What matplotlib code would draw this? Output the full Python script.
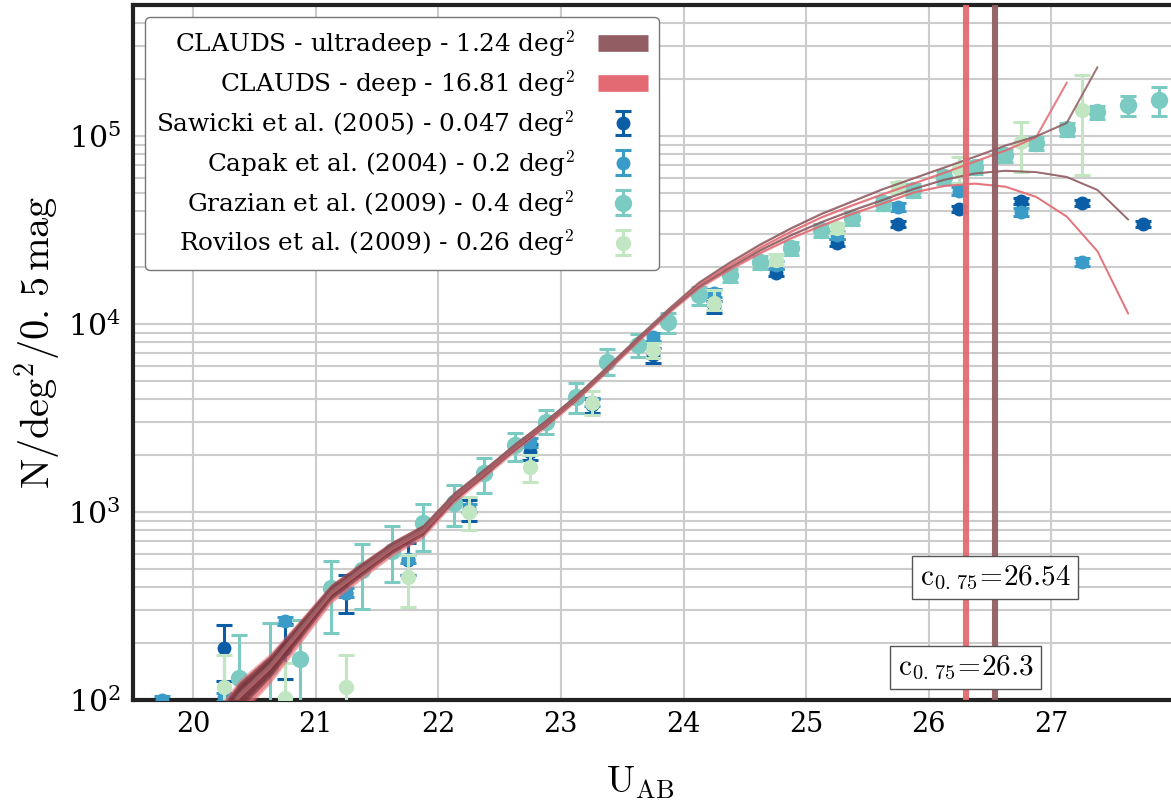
import numpy as np
import matplotlib
matplotlib.use("Agg")
import matplotlib.pyplot as plt
from matplotlib.lines import Line2D
from matplotlib.ticker import LogLocator, NullFormatter, FixedLocator

plt.rcParams['font.family'] = ['DejaVu Serif']
plt.rcParams['mathtext.fontset'] = 'cm'

# ---------------- data ----------------
# CLAUDS number counts (bin centres every 0.25 mag)
ud_hi_mag = [20.125, 20.375, 20.625, 20.875, 21.125, 21.375, 21.625, 21.875, 22.125, 22.375,
             22.625, 22.875, 23.125, 23.375, 23.625, 23.875, 24.125, 24.375, 24.625, 24.875,
             25.125, 25.375, 25.625, 25.875, 26.125, 26.375, 26.625, 26.875, 27.125, 27.375]
ud_hi_val = [63, 108, 154, 242, 382, 505, 660, 815, 1225, 1660,
             2270, 3030, 4140, 5880, 8420, 11950, 16600, 21200, 26500, 32300,
             38600, 44900, 52200, 59600, 68000, 77600, 89100, 99600, 117500, 232000]

ud_lo_mag = ud_hi_mag + [27.625]
ud_lo_val = [61, 104, 149, 234, 370, 490, 641, 792, 1188, 1610,
             2200, 2940, 4020, 5700, 8170, 11580, 15800, 19900, 24700, 29700,
             34900, 40200, 45800, 52300, 58600, 63300, 65400, 64300, 60600, 51700, 36000]

d_hi_mag = ud_hi_mag[:-1]
d_hi_val = [62, 106, 151, 237, 374, 495, 648, 800, 1200, 1625,
            2225, 2970, 4060, 5760, 8250, 11700, 16200, 20500, 25500, 31000,
            37000, 42800, 49100, 55900, 63800, 73200, 83800, 98600, 192000]

d_lo_mag = ud_lo_mag
d_lo_val = [60, 103, 147, 231, 366, 485, 635, 784, 1176, 1595,
            2180, 2910, 3980, 5650, 8080, 11460, 15600, 19500, 23900, 28600,
            33400, 38600, 43900, 50100, 54300, 55900, 53800, 47500, 37300, 24400, 11400]

ud_area_field = 0.45
d_area_field = 0.22

c_deep = 26.3
c_ultradeep = 26.54

# Sawicki et al. (2005)
saw_mag = [20.25, 20.75, 21.25, 21.75, 22.25, 22.75, 23.25, 23.75, 24.25, 24.75,
           25.25, 25.75, 26.25, 26.75, 27.25, 27.75]
saw_val = [188, 186, 370, 556, 1015, 2090, 3690, 6810, 12400, 18700,
           27100, 34100, 41000, 45100, 44000, 34100]
saw_lo = [126, 129, 290, 461, 893, 1890, 3380, 6200, 11500, 17900,
          26000, 32700, 39400, 43300, 42200, 32700]
saw_hi = [252, 255, 461, 683, 1158, 2300, 4000, 7450, 13300, 19500,
          28200, 35500, 42600, 46900, 45800, 35500]

# Capak et al. (2004)
cap_mag = [19.75, 20.25, 20.75, 21.25, 21.75, 22.25, 22.75, 23.25, 23.75, 24.25,
           24.75, 25.25, 25.75, 26.25, 26.75, 27.25]
cap_val = [100, 104, 264, 373, 565, 1055, 2350, 3840, 8550, 14600,
           20600, 29700, 42000, 51000, 39500, 21400]
cap_lo = [95, 99, 251, 354, 537, 1002, 2230, 3650, 8120, 13870,
          19570, 28200, 39900, 48450, 37500, 20300]
cap_hi = [105, 109, 277, 392, 593, 1108, 2470, 4030, 8980, 15330,
          21630, 31200, 44100, 53550, 41500, 22500]

# Grazian et al. (2009)
gra_mag = [20.375, 20.625, 20.875, 21.125, 21.375, 21.625, 21.875, 22.125, 22.375, 22.625,
           22.875, 23.125, 23.375, 23.625, 23.875, 24.125, 24.375, 24.625, 24.875, 25.125,
           25.375, 25.625, 25.875, 26.125, 26.375, 26.625, 26.875, 27.125, 27.375, 27.625, 27.875]
gra_val = [131, 149, 165, 393, 491, 622, 870, 1115, 1610, 2270,
           3020, 4080, 6290, 7730, 10250, 14270, 18200, 21350, 25300, 31600,
           36700, 44000, 51600, 60500, 68300, 79300, 91800, 109000, 134000, 146000, 155000]
gra_lo = [50, 50, 60, 227, 304, 423, 618, 843, 1265, 1870,
          2600, 3360, 5360, 6690, 8970, 12600, 16700, 19600, 23300, 29100,
          33800, 40500, 47500, 55700, 62800, 72900, 84500, 100300, 123300, 128000, 127000]
gra_hi = [221, 256, 265, 546, 673, 838, 1097, 1392, 1935, 2630,
          3490, 4860, 7370, 8860, 11450, 15750, 19700, 23100, 27300, 34100,
          39600, 47500, 55700, 65300, 73800, 85600, 99100, 117700, 144700, 164000, 183000]

# Rovilos et al. (2009)
rov_mag = [20.25, 20.75, 21.25, 21.75, 22.25, 22.75, 23.25, 23.75, 24.25, 24.75,
           25.25, 25.75, 26.25, 26.75, 27.25]
rov_val = [117, 103, 117, 450, 1000, 1740, 3790, 7270, 13000, 22000,
           32400, 53500, 66700, 93000, 138000]
rov_lo = [60, 60, 60, 312, 800, 1450, 3280, 6600, 11900, 20500,
          30600, 50000, 56200, 64400, 62300]
rov_hi = [174, 158, 174, 590, 1200, 2020, 4400, 7900, 15100, 23700,
          34500, 57000, 77200, 118500, 211000]

x_ticks = [20, 21, 22, 23, 24, 25, 26, 27]

# ---------------- styles ----------------
col_ud = '#925e63'
col_d = '#e36a72'
col_saw = '#0b5ea6'
col_cap = '#3a9bc8'
col_gra = '#7bcbc3'
col_rov = '#c2e6c1'

W, H = 1171, 802
fig = plt.figure(figsize=(W / 100, H / 100), dpi=100)
ax = fig.add_axes([133 / W, 102 / H, (1174 - 133) / W, 695 / H])
ax.set_yscale('log')
ax.set_xlim(19.51, 28.0)
ax.set_ylim(100, 10 ** (2 + 695 / 188))

ax.set_facecolor('white')
ax.grid(True, which='both', color='#cccccc', lw=1.5)
ax.set_axisbelow(True)
ax.xaxis.set_major_locator(FixedLocator(x_ticks))
ax.yaxis.set_major_locator(LogLocator(base=10, numticks=10))
ax.yaxis.set_minor_locator(LogLocator(base=10, subs=np.arange(2, 10), numticks=20))
ax.yaxis.set_minor_formatter(NullFormatter())
ax.tick_params(which='both', length=0)
ax.tick_params(axis='x', labelsize=19.5, pad=8)
ax.tick_params(axis='y', labelsize=21.5, pad=9)
for s in ax.spines.values():
    s.set_color('#222222')
    s.set_linewidth(3)
ax.spines['right'].set_visible(False)

# data points
ekw = dict(fmt='o', elinewidth=2.2, capsize=6, capthick=2.2, linestyle='none')
def eb(m, v, lo, hi, color, ms, label, z):
    v = np.array(v, float)
    yerr = [v - np.array(lo, float), np.array(hi, float) - v]
    return ax.errorbar(m, v, yerr=yerr, color=color, ms=ms, zorder=z, label=label,
                       mec=color, **ekw)

h_saw = eb(saw_mag, saw_val, saw_lo, saw_hi, col_saw, 9, r'Sawicki et al. (2005) - 0.047 deg$^2$', 3)
h_cap = eb(cap_mag, cap_val, cap_lo, cap_hi, col_cap, 9, r'Capak et al. (2004) - 0.2 deg$^2$', 3.1)
h_gra = eb(gra_mag, gra_val, gra_lo, gra_hi, col_gra, 11.5, r'Grazian et al. (2009) - 0.4 deg$^2$', 3.2)
h_rov = eb(rov_mag, rov_val, rov_lo, rov_hi, col_rov, 10, r'Rovilos et al. (2009) - 0.26 deg$^2$', 3.3)

# CLAUDS curves with Poisson bands
def curve(m, v, area, color, z, falpha, lcolor):
    m = np.array(m, float)
    v = np.array(v, float)
    err = np.sqrt(v * area) / area
    ax.fill_between(m, v - err, v + err, color=color, alpha=falpha, lw=0, zorder=z)
    ax.plot(m, v, color=lcolor, lw=1.4, alpha=0.85, zorder=4.5)

curve(d_hi_mag, d_hi_val, d_area_field, col_d, 4.0, 0.55, col_d)
curve(d_lo_mag, d_lo_val, d_area_field, col_d, 4.0, 0.55, col_d)
curve(ud_hi_mag, ud_hi_val, ud_area_field, '#6e2f37', 4.2, 0.62, col_ud)
curve(ud_lo_mag, ud_lo_val, ud_area_field, '#6e2f37', 4.2, 0.62, col_ud)

ax.axvline(c_deep, color=col_d, lw=4.4, alpha=0.95, zorder=5)
ax.axvline(c_ultradeep, color=col_ud, lw=4.4, alpha=0.95, zorder=5)

bbox = dict(boxstyle='square,pad=0.25', fc='white', ec='#555555', lw=1)
ax.text(c_ultradeep, 449, r'$\mathrm{c}_{0.\,75}\!=\!26.54$', ha='center', va='center',
        fontsize=21, bbox=bbox, zorder=6)
ax.text(c_deep, 149, r'$\mathrm{c}_{0.\,75}\!=\!26.3$', ha='center', va='center',
        fontsize=21, bbox=bbox, zorder=6)

ax.set_xlabel(r'$\mathrm{U_{AB}}$', fontsize=27)
ax.xaxis.set_label_coords(0.487, -0.093)
ax.set_ylabel(r'$\mathrm{N/deg^2/0.\hspace{0.12}5\,mag}$', fontsize=29)
ax.yaxis.set_label_coords(-0.067, 0.515)

handles = [Line2D([], [], color=col_ud, lw=12, solid_capstyle='butt'),
           Line2D([], [], color=col_d, lw=12, solid_capstyle='butt'),
           h_saw, h_cap, h_gra, h_rov]
labels = [r'CLAUDS - ultradeep - 1.24 deg$^2$', r'CLAUDS - deep - 16.81 deg$^2$',
          h_saw.get_label(), h_cap.get_label(), h_gra.get_label(), h_rov.get_label()]
leg = ax.legend(handles, labels, loc='upper left', bbox_to_anchor=(0.0115, 0.9827),
                borderaxespad=0, markerfirst=False, fontsize=17.8, handlelength=2.0,
                handletextpad=0.95, labelspacing=0.38, frameon=True, fancybox=True,
                framealpha=1, edgecolor='#777777', borderpad=0.45)
leg.set_zorder(10)
leg.get_frame().set_linewidth(1)

fig.savefig('out.png', dpi=100)
